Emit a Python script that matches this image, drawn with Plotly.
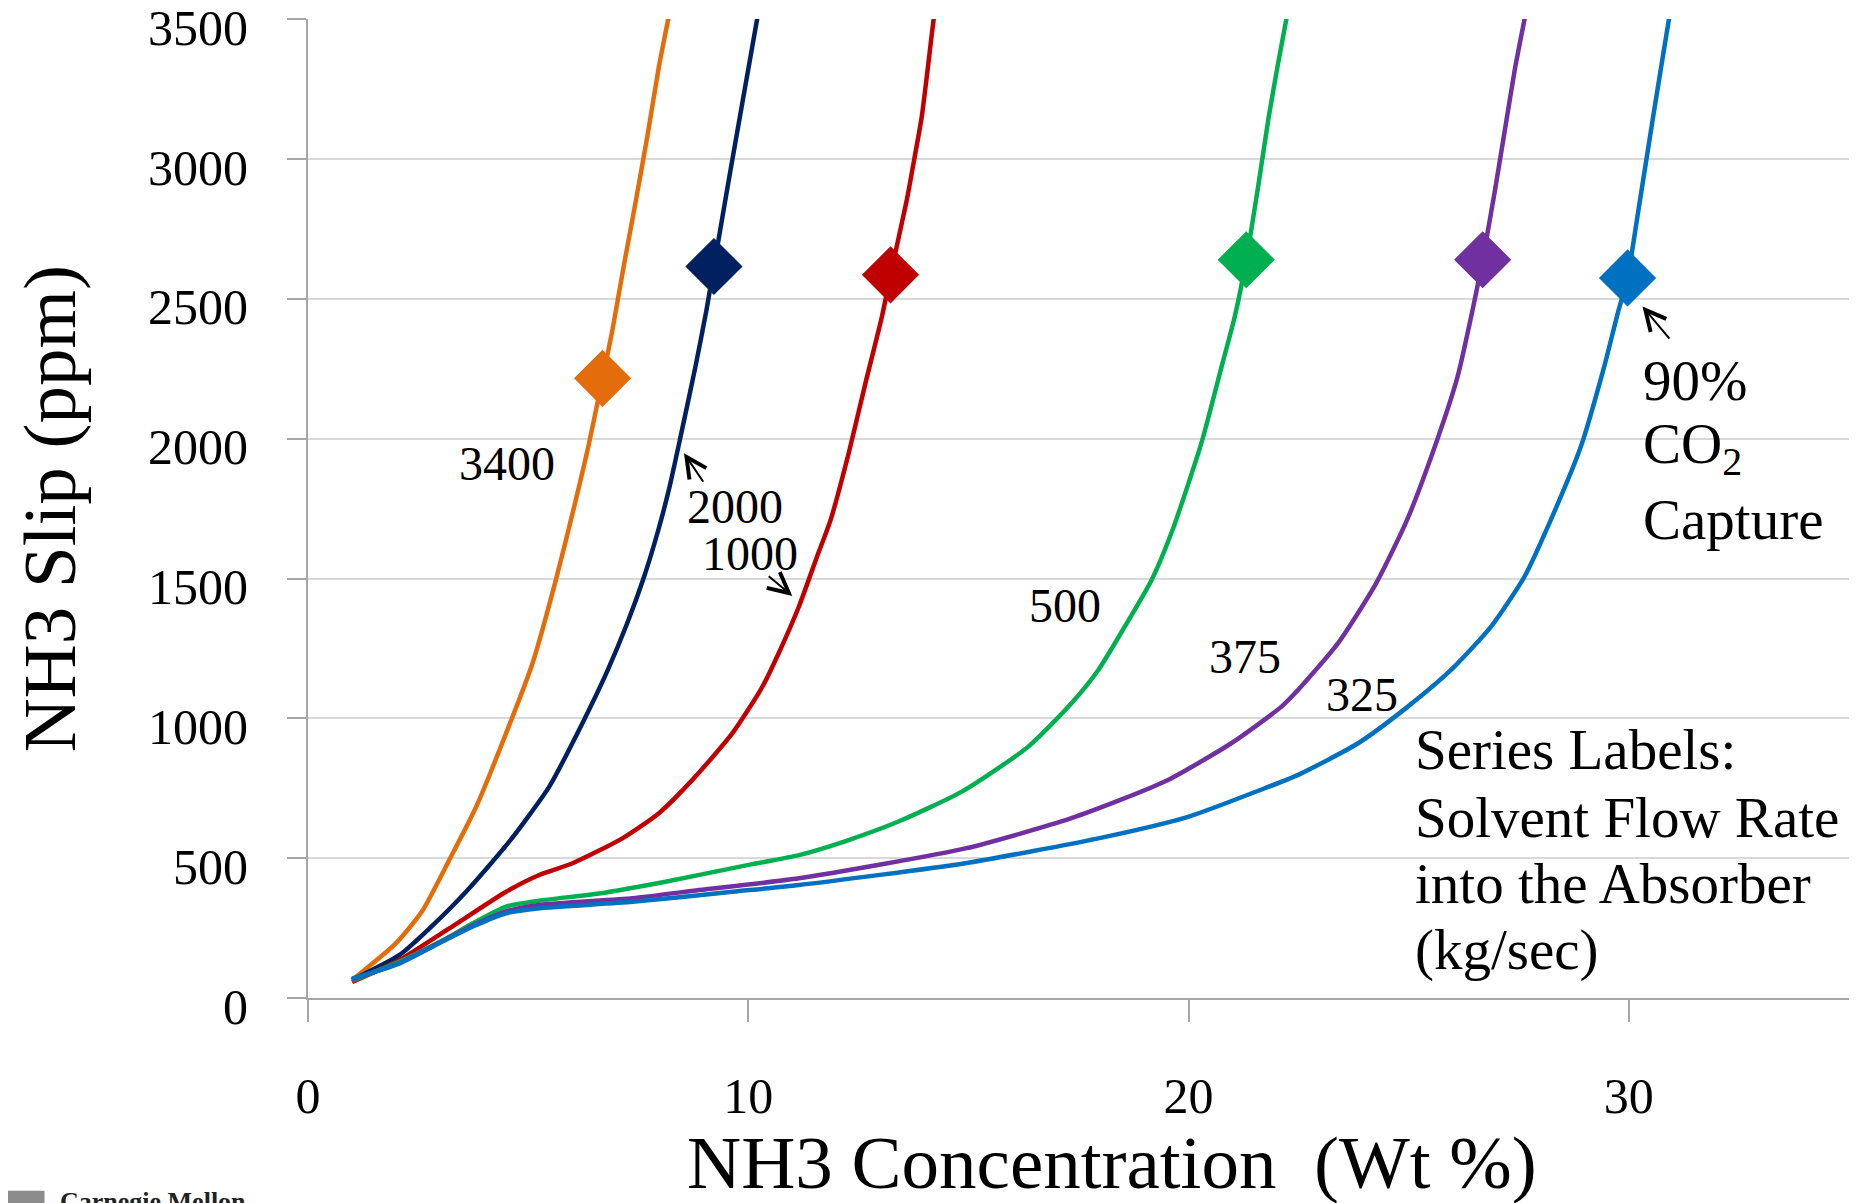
import plotly.graph_objects as go

FONT = "Liberation Serif"

# ---- axes ----
x_tick_vals = [0, 10, 20, 30]
x_tick_text = ["0", "10", "20", "30"]
y_tick_vals = [0, 500, 1000, 1500, 2000, 2500, 3000, 3500]
y_tick_text = ["0", "500", "1000", "1500", "2000", "2500", "3000", "3500"]

# ---- series (solvent flow rate, kg/sec) ----
series_names = ["3400", "2000", "1000", "500", "375", "325"]
series_colors = ["#E46C0A", "#002060", "#C00000", "#00B050", "#7030A0", "#0070C0"]

x_3400 = [1.0, 2.0, 2.61, 3.21, 3.82, 4.50, 5.10, 5.63, 6.05, 6.35, 6.69, 6.90, 7.17, 7.45, 7.72, 7.97, 8.18, 8.29]
y_3400 = [64, 196, 315, 494, 684, 947, 1197, 1495, 1760, 1960, 2216, 2377, 2616, 2854, 3093, 3331, 3500, 3600]

x_2000 = [1.0, 2.08, 2.76, 3.59, 4.57, 5.48, 6.23, 6.80, 7.25, 7.62, 7.95, 8.20, 8.46, 8.80, 9.05, 9.22, 9.42, 9.64, 9.92, 10.20, 10.31]
y_2000 = [64, 154, 249, 380, 559, 756, 982, 1170, 1340, 1500, 1670, 1820, 2006, 2258, 2460, 2616, 2800, 3000, 3250, 3500, 3600]

x_1000 = [1.0, 2.08, 3.21, 4.50, 5.25, 6.01, 7.14, 7.97, 8.73, 9.64, 10.32, 10.69, 11.15, 11.56, 11.87, 12.28, 12.66, 13.04, 13.23, 13.60, 13.77, 13.94, 14.21, 14.30]
y_1000 = [57, 136, 249, 380, 440, 482, 571, 661, 780, 947, 1113, 1233, 1400, 1578, 1710, 1948, 2198, 2440, 2586, 2854, 3000, 3152, 3500, 3600]

x_500 = [1.0, 2.08, 3.21, 3.74, 4.50, 5.25, 6.61, 8.12, 10.01, 11.15, 12.28, 13.41, 14.85, 16.36, 17.34, 17.95, 18.55, 19.16, 19.65, 20.29, 20.75, 21.05, 21.31, 21.58, 21.82, 22.03, 22.22, 22.33]
y_500 = [62, 130, 219, 267, 327, 348, 374, 416, 476, 511, 565, 631, 738, 899, 1054, 1173, 1328, 1495, 1680, 1984, 2258, 2437, 2640, 2902, 3150, 3340, 3500, 3600]

x_375 = [1.0, 2.08, 2.98, 3.82, 4.50, 5.25, 7.37, 8.88, 11.15, 14.93, 17.34, 19.46, 20.97, 22.11, 22.49, 23.40, 24.25, 24.95, 25.60, 26.11, 26.45, 26.68, 26.95, 27.20, 27.42, 27.63, 27.74]
y_375 = [66, 125, 198, 265, 310, 333, 357, 386, 428, 535, 643, 774, 911, 1042, 1102, 1270, 1480, 1705, 1975, 2222, 2460, 2640, 2880, 3120, 3330, 3500, 3600]

x_325 = [1.0, 2.08, 2.98, 3.82, 4.50, 5.25, 7.37, 9.64, 11.15, 14.93, 17.95, 19.99, 21.73, 22.49, 23.85, 24.98, 25.96, 26.87, 27.63, 28.20, 28.91, 29.44, 29.75, 29.97, 30.22, 30.56, 30.91, 31.02]
y_325 = [69, 124, 196, 261, 303, 321, 344, 380, 404, 482, 571, 648, 750, 798, 911, 1042, 1173, 1328, 1507, 1700, 1972, 2258, 2450, 2575, 2820, 3160, 3500, 3600]

series_x = [x_3400, x_2000, x_1000, x_500, x_375, x_325]
series_y = [y_3400, y_2000, y_1000, y_500, y_375, y_325]

# 90% CO2 capture points
capture_x = [6.69, 9.22, 13.23, 21.31, 26.68, 29.97]
capture_y = [2216, 2616, 2586, 2640, 2640, 2575]

# series label positions (data coords)
label_x = [4.53, 9.69, 10.03, 17.20, 21.29, 23.93]
label_y = [1913, 1756, 1591, 1405, 1220, 1087]

fig = go.Figure()
for name, color, xs, ys in zip(series_names, series_colors, series_x, series_y):
    fig.add_trace(go.Scatter(
        x=xs, y=ys, mode="lines", name=name,
        line=dict(color=color, width=4.5, shape="spline", smoothing=0.6),
        showlegend=False, hoverinfo="skip"))

fig.add_trace(go.Scatter(
    x=capture_x, y=capture_y, mode="markers",
    marker=dict(symbol="diamond", size=44, color=series_colors, line=dict(width=0)),
    showlegend=False, hoverinfo="skip"))

annotations = []
for name, lx, ly in zip(series_names, label_x, label_y):
    annotations.append(dict(x=lx, y=ly, xref="x", yref="y", text=name, showarrow=False,
                            font=dict(family=FONT, size=48, color="black"),
                            xanchor="center", yanchor="middle"))

# arrows
arrow_specs = [
    ((9.00, 1841), (8.54, 1948)),
    ((10.43, 1513), (11.00, 1438)),
    ((30.95, 2353), (30.31, 2473)),
]
for (tx, ty), (hx, hy) in arrow_specs:
    annotations.append(dict(x=hx, y=hy, ax=tx, ay=ty, xref="x", yref="y", axref="x", ayref="y",
                            text="", showarrow=True, arrowhead=5, arrowsize=2,
                            arrowwidth=2, arrowcolor="black"))

capture_lines = ["90%", "CO<sub>2</sub>", "Capture"]
capture_line_y = [2210, 1967, 1710]
for t, yy in zip(capture_lines, capture_line_y):
    annotations.append(dict(x=30.27, y=yy, xref="x", yref="y", text=t, showarrow=False,
                            font=dict(family=FONT, size=57, color="black"),
                            xanchor="left", yanchor="middle"))

note_lines = ["Series Labels:", "Solvent Flow Rate", "into the Absorber", "(kg/sec)"]
note_line_y = [887, 647, 411, 172]
for t, yy in zip(note_lines, note_line_y):
    annotations.append(dict(x=25.10, y=yy, xref="x", yref="y", text=t, showarrow=False,
                            font=dict(family=FONT, size=57, color="black"),
                            xanchor="left", yanchor="middle"))

# axis titles
annotations.append(dict(x=-0.168, y=0.5, xref="paper", yref="paper", text="NH3 Slip (ppm)",
                        textangle=-90, showarrow=False, xanchor="center", yanchor="middle",
                        font=dict(family=FONT, size=75, color="black")))
annotations.append(dict(x=0.5217, y=-0.1685, xref="paper", yref="paper",
                        text="NH3 Concentration  (Wt %)", showarrow=False,
                        xanchor="center", yanchor="middle",
                        font=dict(family=FONT, size=75, color="black")))
# partial logo text at bottom-left
annotations.append(dict(x=-0.162, y=-0.1915, xref="paper", yref="paper", text="<b>Carnegie Mellon</b>",
                        showarrow=False, xanchor="left", yanchor="top",
                        font=dict(family=FONT, size=26, color="#222222")))

shapes = [dict(type="rect", xref="paper", yref="paper", x0=-0.195, x1=-0.171, y0=-0.215, y1=-0.197,
               fillcolor="#8C8C8C", line=dict(width=0))]

# the page body adds an 8px offset, so the figure is 8px smaller and margins shifted
fig.update_layout(
    width=1860, height=1195,
    margin=dict(l=300, r=19, t=11, b=205, autoexpand=False),
    paper_bgcolor="white", plot_bgcolor="white",
    annotations=annotations, shapes=shapes,
    showlegend=False,
)
fig.update_xaxes(
    range=[0, 35], tickmode="array", tickvals=x_tick_vals, ticktext=x_tick_text,
    showgrid=False, zeroline=False, showline=True, linecolor="#A6A6A6", linewidth=2,
    ticks="outside", ticklen=22, tickwidth=1.5, tickcolor="#A6A6A6",
    tickfont=dict(family=FONT, size=50, color="black"), ticklabelstandoff=31,
    ticklabeloverflow="allow", automargin=False,
)
fig.update_yaxes(
    range=[0, 3501], tickmode="array", tickvals=y_tick_vals, ticktext=y_tick_text,
    showgrid=True, gridcolor="#D9D9D9", gridwidth=1.5, zeroline=False,
    showline=True, linecolor="#A6A6A6", linewidth=2,
    ticks="outside", ticklen=19, tickwidth=1.5, tickcolor="#A6A6A6",
    tickfont=dict(family=FONT, size=50, color="black"), ticklabelstandoff=29,
    ticklabelshift=8, ticklabeloverflow="allow", automargin=False,
)

fig.write_html("out.html", config={"displayModeBar": False})
